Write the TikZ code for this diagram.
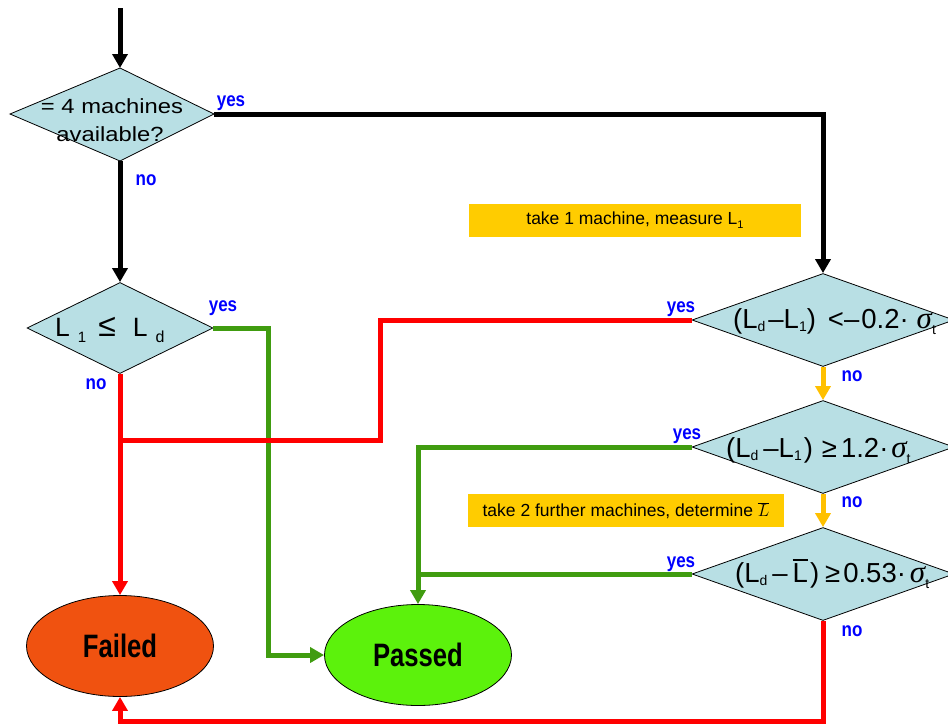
\documentclass[tikz,border=0pt]{standalone}
\usepackage{fontspec}
\setmainfont{Liberation Sans}
\newfontfamily\lserif{Liberation Serif}
\usetikzlibrary{shapes.geometric,arrows.meta}
\definecolor{diablue}{RGB}{184,223,228}
\definecolor{lred}{RGB}{255,0,0}
\definecolor{lgreen}{RGB}{64,156,16}
\definecolor{lyellow}{RGB}{255,192,0}
\definecolor{boxyellow}{RGB}{255,204,0}
\definecolor{failfill}{RGB}{240,82,16}
\definecolor{passfill}{RGB}{92,242,12}
\definecolor{lblue}{RGB}{0,0,255}
\newcommand\setfs[1]{\fontsize{#1}{#1}\selectfont}
\newcommand\subx[1]{\raisebox{-3pt}{\setfs{14}#1}}
\newcommand\subt{\raisebox{-6pt}{\setfs{14}t}}
\newcommand\sig{{\lserif\itshape\setfs{31}σ}}
\newcommand\Lbar{\makebox[0pt][l]{\raisebox{22pt}{\rule{15pt}{1.3pt}}}L}
\newcommand\tall[1]{\scalebox{1}[1.18]{#1}}
\begin{document}
\begin{tikzpicture}[x=1pt,y=-1pt,
  conn/.style={line width=5pt,-{Triangle[length=14pt,width=15pt]}},
  plainline/.style={line width=5pt},
  dia/.style={diamond,draw=black,line width=0.8pt,fill=diablue,inner sep=0pt,minimum width=262pt,minimum height=93pt},
  term/.style={ellipse,draw=black,line width=0.8pt,minimum width=187pt,minimum height=101pt,inner sep=0pt,font=\setfs{27}\bfseries},
  note/.style={fill=boxyellow,inner sep=0pt,font=\setfs{17.5}},
  lab/.style={text=lblue,font=\setfs{17}\bfseries,inner sep=0pt},
  dtext/.style={font=\setfs{27.5},inner sep=0pt,anchor=base west},
]
\useasboundingbox (0,0) rectangle (948,726);

% diamond 1 (drawn directly)
\coordinate (d1n) at (120,68);
\coordinate (d1e) at (214,114);
\coordinate (d1s) at (120,161);
\coordinate (d1w) at (10,114);
\draw[line width=0.8pt,fill=diablue] (d1n) -- (d1e) -- (d1s) -- (d1w) -- cycle;

\node[dia,minimum width=186pt,minimum height=91pt] (d2) at (120,328) {};
\node[dia] (d3) at (823,320) {};
\node[dia] (d4) at (823,447) {};
\node[dia] (d5) at (823,574) {};

\node[term,fill=failfill] (failed) at (120,646) {\scalebox{0.95}[1.2]{Failed}};
\node[term,fill=passfill] (passed) at (418,655) {\scalebox{0.95}[1.2]{Passed}};

\node[note,minimum width=332pt,minimum height=33pt] (n1) at (635,220.5) {take 1 machine, measure L\raisebox{-4pt}{\setfs{11}1}};
\node[note,minimum width=316pt,minimum height=33pt] (n2) at (626,510.5) {take 2 further machines, determine $\overline{L}$};

% diamond texts
\node[font=\setfs{20.5},inner sep=0pt,anchor=base] (t1a) at (112,113) {\scalebox{1.16}[1]{= 4 machines}};
\node[font=\setfs{20.5},inner sep=0pt,anchor=base] (t1b) at (110,141) {\scalebox{1.16}[1]{available?}};
\node[font=\setfs{26.5},inner sep=0pt,anchor=base west] (t2) at (55,336)
  {L\hspace{8pt}\raisebox{-6pt}{\setfs{15}1}\hspace{12pt}{\setfs{32}≤}\hspace{17pt}L\hspace{8pt}\raisebox{-6pt}{\setfs{16}d}};
\node[dtext] (t3) at (733,328.5) {(L\subx{d}\hspace{3pt}–L\subx{1})\hspace{12pt}<–\hspace{2pt}0.2·\hspace{8pt}\sig\subt};
\node[dtext] (t4) at (726,457) {(L\subx{d}\hspace{5pt}–L\subx{1}\hspace{2pt})\hspace{9pt}≥\hspace{4pt}1.2·\hspace{3pt}\sig\subt};
\node[dtext] (t5) at (735,582.5) {(L\subx{d}\hspace{5pt}–\hspace{5pt}\Lbar\hspace{2pt})\hspace{6pt}≥\hspace{3pt}0.53·\hspace{4pt}\sig\subt};

% connectors
\coordinate (top) at (120,8);
\draw[conn] (top) -- (d1n);
\draw[conn] (d1e) -| (d3.north);
\draw[conn] (d1s) -- (d2.north);
\draw[conn,lgreen] (d2.east) -- ++(55,0) |- (passed.west);
\draw[conn,lred] (d2.south) -- (failed.north);
\coordinate (k1) at (380,440);
\coordinate (j1) at (120,440);
\draw[plainline,lred] (d3.west) -| (k1) -- (j1);
\draw[conn,lyellow] (d3.south) -- (d4.north);
\draw[conn,lyellow] (d4.south) -- (d5.north);
\draw[conn,lgreen] (d4.west) -| (passed.north);
\coordinate (j2) at (418,574);
\draw[plainline,lgreen] (d5.west) -- (j2);
\coordinate (b1) at (120,721);
\draw[conn,lred] (d5.south) |- (b1) -- (failed.south);

% labels
\node[lab] (y1) at (231,103) {\tall{yes}};
\node[lab] (o1) at (146,180) {\tall{no}};
\node[lab] (y2) at (223,308) {\tall{yes}};
\node[lab] (o2) at (96,384) {\tall{no}};
\node[lab] (y3) at (681,309) {\tall{yes}};
\node[lab] (o3) at (852,376) {\tall{no}};
\node[lab] (y4) at (687,436) {\tall{yes}};
\node[lab] (o4) at (852,502) {\tall{no}};
\node[lab] (y5) at (681,564) {\tall{yes}};
\node[lab] (o5) at (852,631) {\tall{no}};
\end{tikzpicture}
\end{document}
